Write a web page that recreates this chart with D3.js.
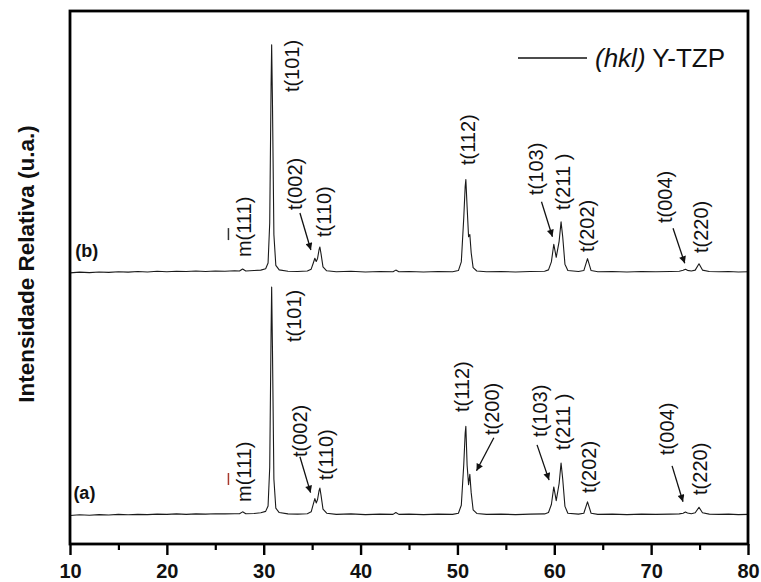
<!DOCTYPE html>
<html><head><meta charset="utf-8">
<script src="https://cdn.jsdelivr.net/npm/d3@7"></script>
<style>html,body{margin:0;padding:0;background:#fff;}svg{display:block;}</style>
</head><body>
<svg id="chart" width="761" height="582"></svg>
<script>
// ---- data ----
const twoTheta = [10, 11, 12, 13, 14, 15, 16, 17, 18, 19, 20, 21, 22, 23, 24, 25, 26, 27,
  27.5, 27.82, 28.15, 29, 29.7,
  30.2, 30.45, 30.62, 30.76, 30.82, 30.9, 31.05, 31.25, 31.6,
  32.5, 33.5, 34.5,
  34.9, 35.12, 35.28, 35.42, 35.56, 35.72, 35.8, 35.92, 36.12, 36.5,
  37.5, 39, 40.5, 42, 43.35, 43.64, 43.95, 45, 46.5, 48, 49.5,
  50.1, 50.4, 50.65, 50.8, 50.87, 51.0, 51.15, 51.28, 51.42, 51.62, 52.0,
  53, 54.5, 56, 57.5, 59,
  59.4, 59.7, 59.95, 60.2, 60.5, 60.7, 60.87, 61.1, 61.4,
  62.5, 63.05, 63.43, 63.8, 64.5,
  66, 67.5, 69, 70.5, 72,
  72.9, 73.3, 73.54, 73.75, 74.15, 74.55, 74.94, 75.3,
  76, 77, 78, 79, 80];

const intensityB = [0.2, 0.5, 0.3, 0.6, 0.4, 0.7, 0.5, 0.8, 0.6, 0.9, 0.7, 0.9, 0.8, 1.0, 0.8, 1.0, 0.9, 1.1,
  1.0, 1.9, 1.0, 1.2, 1.4,
  2.0, 4.5, 22, 82, 100, 76, 17, 3.5, 1.5,
  0.9, 0.8, 1.0,
  1.8, 4.5, 6.6, 5.2, 6.5, 10.5, 11.5, 8.5, 2.8, 1.1,
  0.7, 0.9, 0.6, 0.8, 0.7, 1.4, 0.7, 0.8, 0.6, 0.8, 0.7,
  1.2, 5, 24, 38, 41, 29, 16, 17, 9, 2.5, 1.0,
  0.7, 0.8, 0.6, 0.8, 0.9,
  1.5, 5, 12.7, 7, 14, 22.5, 16, 4, 1.2,
  0.8, 1.2, 6.4, 1.2, 0.7,
  0.8, 0.6, 0.8, 0.7, 0.8,
  0.9, 1.3, 1.8, 1.3, 1.0, 1.4, 4.2, 1.4,
  0.8, 0.7, 0.8, 0.6, 0.7];

const intensityA = [0.0, 0.3, 0.1, 0.4, 0.2, 0.5, 0.3, 0.5, 0.4, 0.6, 0.5, 0.7, 0.5, 0.7, 0.6, 0.8, 0.7, 0.8,
  0.8, 1.6, 0.8, 0.9, 1.2,
  1.8, 4.2, 21, 80, 100, 74, 16, 3.2, 1.3,
  0.7, 0.6, 0.8,
  1.6, 5.0, 7.4, 5.5, 7.0, 11.0, 12.0, 8.8, 2.8, 1.0,
  0.5, 0.7, 0.4, 0.6, 0.5, 1.3, 0.5, 0.6, 0.4, 0.6, 0.5,
  1.0, 4.5, 22, 36, 39, 22, 13.5, 18, 10, 2.5, 0.9,
  0.5, 0.6, 0.4, 0.6, 0.7,
  1.3, 4.8, 12.5, 6.5, 14, 23, 16, 4, 1.0,
  0.6, 1.0, 6.0, 1.0, 0.5,
  0.6, 0.4, 0.6, 0.5, 0.6,
  0.7, 1.0, 1.5, 1.1, 0.8, 1.2, 3.6, 1.2,
  0.6, 0.5, 0.6, 0.4, 0.5];

const offsetB = 106;           // vertical stacking offset of pattern (b)
const xTicks = [10, 20, 30, 40, 50, 60, 70, 80];
const xMinorTicks = [15, 25, 35, 45, 55, 65, 75];
const seriesNames = ["(a)", "(b)"];
const legendText = ["(hkl)", " Y-TZP"];
const yTitle = "Intensidade Relativa (u.a.)";

// peak labels: [text, 2theta, intensity (relative to its own pattern)]
const labelsB = [["m(111)", 28.01, 7.1], ["t(101)", 32.91, 79.3], ["t(002)", 33.27, 27.7], ["t(110)", 36.26, 15.9],
  ["t(112)", 51.07, 47.4], ["t(103)", 58.09, 34.3], ["t(211 )", 60.88, 27.7], ["t(202)", 63.35, 9.3],
  ["t(004)", 71.40, 22.0], ["t(220)", 75.12, 8.9]];
const labelsA = [["m(111)", 28.01, 5.9], ["t(101)", 33.12, 75.9], ["t(002)", 33.74, 25.6], ["t(110)", 36.42, 15.5],
  ["t(112)", 50.51, 45.3], ["t(200)", 53.55, 35.2], ["t(103)", 58.50, 34.4], ["t(211 )", 60.88, 28.7],
  ["t(202)", 63.56, 9.8], ["t(004)", 71.61, 26.5], ["t(220)", 75.02, 9.0]];
// arrows: [theta0, I0, theta1, I1]
const arrowsB = [[33.74, 26.4, 34.87, 10.2], [58.68, 31.3, 59.81, 16.0], [72.26, 19.7, 73.47, 4.4]];
const arrowsA = [[33.74, 25.7, 34.84, 10.0], [53.76, 34.0, 51.97, 19.6], [58.22, 30.9, 59.46, 15.5], [72.16, 21.7, 73.29, 6.0]];

// ---- drawing ----
const svg = d3.select("#chart");
const FONT = "'Liberation Sans', Arial, Helvetica, sans-serif";
const x = d3.scaleLinear().domain([10, 80]).range([70, 748]);
const y = d3.scaleLinear().domain([-12.47, 220.8]).range([544, 11]);

const defs = svg.append("defs");
defs.append("marker").attr("id", "arr").attr("viewBox", "0 0 10 10").attr("refX", 10).attr("refY", 5)
  .attr("markerWidth", 9).attr("markerHeight", 7).attr("markerUnits", "userSpaceOnUse").attr("orient", "auto")
  .append("path").attr("d", "M0,0 L10,5 L0,10 Z").attr("fill", "#111");

const line = d3.line().x(d => x(d[0])).y(d => y(d[1]));
function drawSeries(vals, off) {
  const pts = twoTheta.map((t, i) => [t, vals[i] + off]);
  svg.append("path").datum(pts).attr("d", line).attr("fill", "none")
    .attr("stroke", "#1a1a1a").attr("stroke-width", 1.1).attr("stroke-linejoin", "round");
}
drawSeries(intensityA, 0);
drawSeries(intensityB, offsetB);

function drawLabels(list, off, barColor) {
  list.forEach(([txt, t, v]) => {
    const g = svg.append("g").attr("transform", `translate(${x(t)},${y(v + off)}) rotate(-90)`);
    g.append("text").attr("x", 0).attr("y", 0).attr("dominant-baseline", "central")
      .attr("font-family", FONT).attr("font-size", 20).attr("fill", "#111").text(txt);
    if (txt.startsWith("m")) {
      g.append("line").attr("x1", 17).attr("x2", 29).attr("y1", -16).attr("y2", -16)
        .attr("stroke", barColor).attr("stroke-width", 1.5);
    }
  });
}
drawLabels(labelsB, offsetB, "#333");
drawLabels(labelsA, 0, "#a8392c");

function drawArrows(list, off) {
  list.forEach(([t0, v0, t1, v1]) => {
    svg.append("line").attr("x1", x(t0)).attr("y1", y(v0 + off)).attr("x2", x(t1)).attr("y2", y(v1 + off))
      .attr("stroke", "#111").attr("stroke-width", 1.3).attr("marker-end", "url(#arr)");
  });
}
drawArrows(arrowsB, offsetB);
drawArrows(arrowsA, 0);

// series tags
svg.append("text").attr("x", x(10.55)).attr("y", y(offsetB + 7.2)).attr("font-family", FONT).attr("font-weight", "bold")
  .attr("font-size", 18).attr("fill", "#111").text(seriesNames[1]);
svg.append("text").attr("x", x(10.35)).attr("y", y(7.3)).attr("font-family", FONT).attr("font-weight", "bold")
  .attr("font-size", 18).attr("fill", "#111").text(seriesNames[0]);

// axes
const ax = svg.append("g").attr("transform", "translate(0,544)");
ax.call(d3.axisBottom(x).tickValues(xTicks).tickSize(11).tickPadding(9).tickFormat(d3.format("d")));
ax.select(".domain").remove();
ax.selectAll(".tick line").attr("stroke", "#000").attr("stroke-width", 2.4);
ax.selectAll(".tick text").attr("font-family", FONT).attr("font-size", 20).attr("font-weight", "bold").attr("fill", "#111");
const axm = svg.append("g").attr("transform", "translate(0,544)");
axm.call(d3.axisBottom(x).tickValues(xMinorTicks).tickSize(6).tickFormat(""));
axm.select(".domain").remove();
axm.selectAll(".tick line").attr("stroke", "#000").attr("stroke-width", 2.2);

// frame
svg.append("rect").attr("x", x(10)).attr("y", y(220.8)).attr("width", x(80) - x(10)).attr("height", y(-12.47) - y(220.8))
  .attr("fill", "none").attr("stroke", "#000").attr("stroke-width", 2.8);

// y title
svg.append("text").attr("transform", "translate(26,264) rotate(-90)").attr("text-anchor", "middle")
  .attr("dominant-baseline", "central").attr("font-family", FONT).attr("font-weight", "bold")
  .attr("font-size", 22.5).attr("fill", "#111").text(yTitle);

// legend
svg.append("line").attr("x1", 518).attr("x2", 587).attr("y1", 58).attr("y2", 58).attr("stroke", "#111").attr("stroke-width", 1.4);
const lt = svg.append("text").attr("x", 595).attr("y", 67).attr("font-family", FONT).attr("font-size", 26).attr("fill", "#111");
lt.append("tspan").attr("font-style", "italic").text(legendText[0]);
lt.append("tspan").text(legendText[1]);
</script>
</body></html>
